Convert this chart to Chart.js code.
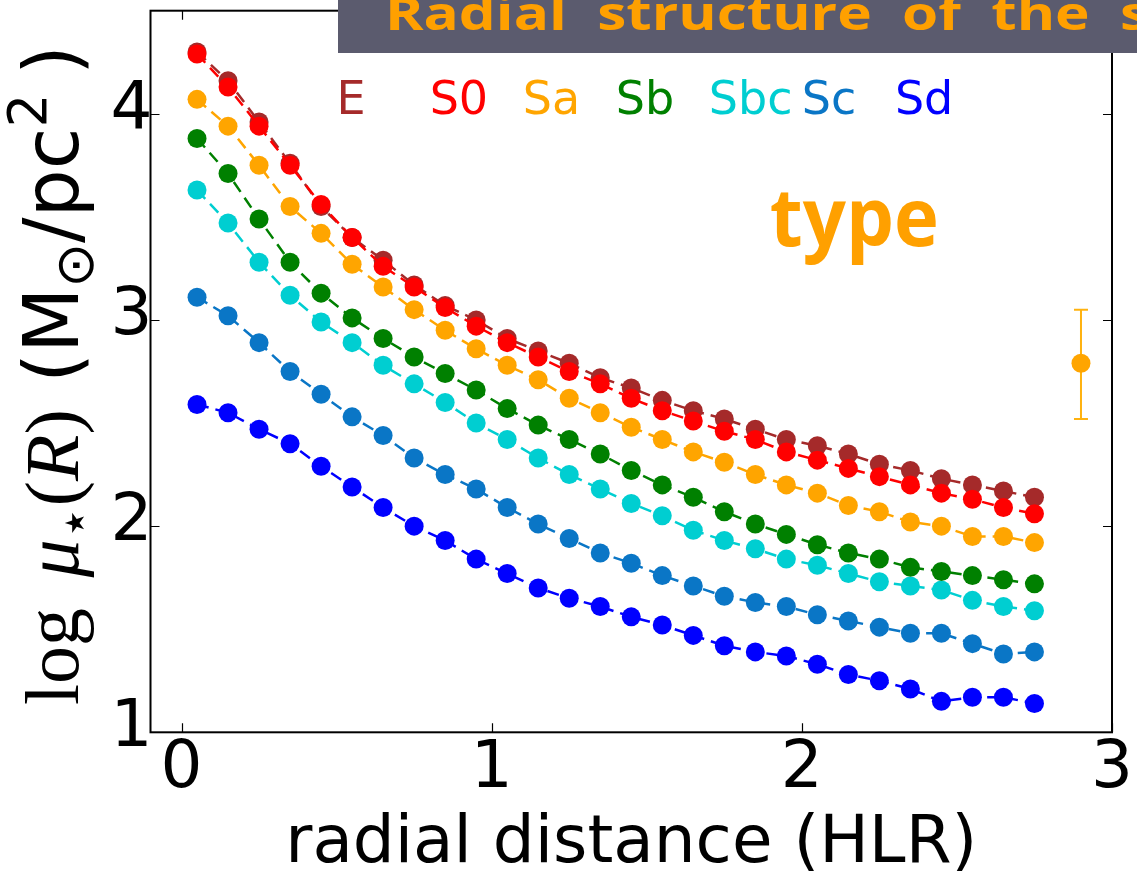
<!DOCTYPE html>
<html>
<head>
<meta charset="utf-8">
<script src="https://cdn.jsdelivr.net/npm/chart.js@4.4.1/dist/chart.umd.min.js"></script>
<style>
  html, body { margin: 0; padding: 0; background: #fff; }
  #wrap { width: 1137px; height: 877px; }
</style>
</head>
<body>
<div id="wrap"><canvas id="profiles" width="1137" height="877"></canvas></div>
<script>
// radial bins (HLR) and mean log surface density per morphological type
const radius = [0.05, 0.15, 0.25, 0.35, 0.45, 0.55, 0.65, 0.75, 0.85, 0.95,
                1.05, 1.15, 1.25, 1.35, 1.45, 1.55, 1.65, 1.75, 1.85, 1.95,
                2.05, 2.15, 2.25, 2.35, 2.45, 2.55, 2.65, 2.75];

const muE   = [4.30, 4.16, 3.96, 3.76, 3.55, 3.40, 3.29, 3.17, 3.07, 3.00,
               2.91, 2.85, 2.79, 2.72, 2.67, 2.61, 2.56, 2.52, 2.47, 2.42,
               2.39, 2.35, 2.30, 2.27, 2.23, 2.20, 2.17, 2.14];
const muS0  = [4.29, 4.13, 3.94, 3.75, 3.56, 3.40, 3.26, 3.16, 3.06, 2.97,
               2.89, 2.82, 2.75, 2.69, 2.62, 2.56, 2.51, 2.46, 2.42, 2.36,
               2.32, 2.28, 2.24, 2.20, 2.16, 2.13, 2.09, 2.06];
const muSa  = [4.07, 3.94, 3.75, 3.55, 3.42, 3.27, 3.16, 3.05, 2.95, 2.86,
               2.78, 2.71, 2.62, 2.55, 2.48, 2.42, 2.36, 2.31, 2.25, 2.20,
               2.16, 2.10, 2.07, 2.02, 2.00, 1.95, 1.95, 1.92];
const muSb  = [3.88, 3.71, 3.49, 3.28, 3.13, 3.01, 2.91, 2.82, 2.74, 2.66,
               2.57, 2.49, 2.42, 2.35, 2.27, 2.20, 2.14, 2.07, 2.01, 1.96,
               1.91, 1.87, 1.84, 1.80, 1.78, 1.76, 1.74, 1.72];
const muSbc = [3.63, 3.47, 3.28, 3.12, 2.99, 2.89, 2.78, 2.69, 2.60, 2.50,
               2.42, 2.33, 2.25, 2.18, 2.11, 2.05, 1.98, 1.93, 1.89, 1.84,
               1.81, 1.77, 1.73, 1.71, 1.69, 1.64, 1.61, 1.59];
const muSc  = [3.11, 3.02, 2.89, 2.75, 2.64, 2.53, 2.44, 2.33, 2.25, 2.18,
               2.09, 2.01, 1.94, 1.87, 1.82, 1.76, 1.71, 1.66, 1.63, 1.61,
               1.57, 1.54, 1.51, 1.48, 1.48, 1.43, 1.38, 1.39];
const muSd  = [2.59, 2.55, 2.47, 2.40, 2.29, 2.19, 2.09, 2.00, 1.93, 1.84,
               1.77, 1.70, 1.65, 1.61, 1.56, 1.52, 1.47, 1.42, 1.39, 1.37,
               1.33, 1.28, 1.25, 1.21, 1.15, 1.17, 1.17, 1.14];

const typeNames  = ["E", "S0", "Sa", "Sb", "Sbc", "Sc", "Sd"];
const typeValues = [muE, muS0, muSa, muSb, muSbc, muSc, muSd];
const typeColors = ["#a52a2a", "#ff0000", "#ffa500", "#008000", "#00ced1", "#0a76c6", "#0000ff"];

// typical uncertainty marker
const errRadius = [2.9];
const errValue  = [2.79];
const errLow    = [2.52];
const errHigh   = [3.05];

const xTicks = [0, 1, 2, 3];
const yTicks = [1, 2, 3, 4];

// where the type names sit (data coordinates, text baseline)
const nameX = [0.5, 0.8, 1.1, 1.4, 1.7, 2.0, 2.3];
const nameY = 4.0;

const datasets = typeNames.map((name, i) => ({
  label: name,
  data: radius.map((r, j) => ({ x: r, y: typeValues[i][j] })),
  showLine: true,
  borderColor: typeColors[i],
  backgroundColor: typeColors[i],
  borderWidth: 2.5,
  borderDash: [12, 7],
  pointRadius: 9.5,
  pointBorderWidth: 0,
  pointHoverRadius: 9.5,
  // S0 sits on top of E, the rest follow the list
  order: i === 1 ? 0 : (i === 0 ? 1 : i)
}));

datasets.push({
  label: "error",
  data: errRadius.map((r, j) => ({ x: r, y: errValue[j] })),
  showLine: false,
  backgroundColor: "#ffa500",
  pointRadius: 9.5,
  pointBorderWidth: 0,
  order: 10
});

// error bar under the marker
const errorBars = {
  id: "errorBars",
  beforeDatasetsDraw(chart) {
    const { ctx, scales: { x, y } } = chart;
    ctx.save();
    ctx.strokeStyle = "#ffb20f";
    ctx.lineWidth = 2;
    errRadius.forEach((r, j) => {
      const px = x.getPixelForValue(r);
      const top = y.getPixelForValue(errHigh[j]);
      const bot = y.getPixelForValue(errLow[j]);
      ctx.beginPath();
      ctx.moveTo(px, top); ctx.lineTo(px, bot);
      ctx.moveTo(px - 7, top); ctx.lineTo(px + 7, top);
      ctx.moveTo(px - 7, bot); ctx.lineTo(px + 7, bot);
      ctx.stroke();
    });
    ctx.restore();
  }
};

// box with inward ticks on all four sides
const frame = {
  id: "frame",
  afterDatasetsDraw(chart) {
    const { ctx, chartArea: a, scales: { x, y } } = chart;
    ctx.save();
    ctx.strokeStyle = "#000";
    ctx.lineWidth = 1.2;
    ctx.beginPath();
    xTicks.forEach(v => {
      const px = Math.round(x.getPixelForValue(v)) + 0.5;
      ctx.moveTo(px, a.bottom); ctx.lineTo(px, a.bottom - 9);
      ctx.moveTo(px, a.top); ctx.lineTo(px, a.top + 9);
    });
    yTicks.forEach(v => {
      const py = Math.round(y.getPixelForValue(v)) + 0.5;
      ctx.moveTo(a.left, py); ctx.lineTo(a.left + 9, py);
      ctx.moveTo(a.right, py); ctx.lineTo(a.right - 9, py);
    });
    ctx.stroke();
    ctx.lineWidth = 2;
    ctx.strokeRect(a.left, a.top, a.right - a.left, a.bottom - a.top);
    ctx.restore();
  }
};

// text pieces of the y label: font, style, relative size and baseline shift (in em)
const yLabelParts = [
  { t: "log", f: "Liberation Serif", s: "" },
  { gap: 0.4 },
  { t: "\u03bc", f: "Liberation Serif", s: "italic" },
  { t: "\u22c6", f: "DejaVu Sans", s: "", k: 0.7, d: 0.18 },
  { t: "(", f: "Liberation Serif", s: "" },
  { t: "R", f: "Liberation Serif", s: "italic" },
  { t: ")", f: "Liberation Serif", s: "" },
  { gap: 0.35 },
  { t: "(M", f: "DejaVu Sans", s: "" },
  { t: "\u2299", f: "DejaVu Sans", s: "", k: 0.7, d: 0.2 },
  { t: "/pc", f: "DejaVu Sans", s: "" },
  { t: "2", f: "DejaVu Sans", s: "", k: 0.7, d: -0.42 },
  { gap: 0.25 },
  { t: ")", f: "DejaVu Sans", s: "" }
];

function drawYLabel(ctx, baseX, startY, length) {
  const base = 60;
  const fontOf = (p, size) => `${p.s} ${size * (p.k || 1)}px "${p.f}"`;
  let total = 0;
  yLabelParts.forEach(p => {
    if (p.gap) { total += p.gap * base; return; }
    ctx.font = fontOf(p, base);
    total += ctx.measureText(p.t).width;
  });
  const size = base * length / total;
  ctx.save();
  ctx.translate(baseX, startY);
  ctx.rotate(-Math.PI / 2);
  ctx.fillStyle = "#000";
  ctx.textBaseline = "alphabetic";
  ctx.textAlign = "left";
  let pos = 0;
  yLabelParts.forEach(p => {
    if (p.gap) { pos += p.gap * size; return; }
    ctx.font = fontOf(p, size);
    ctx.fillText(p.t, pos, (p.d || 0) * size);
    pos += ctx.measureText(p.t).width;
  });
  ctx.restore();
}

// draws text so that its inked width equals the given width
function fitText(ctx, text, left, baseline, width, font) {
  ctx.font = font;
  const m = ctx.measureText(text);
  const ink = m.actualBoundingBoxLeft + m.actualBoundingBoxRight;
  const sx = width / ink;
  ctx.save();
  ctx.translate(left, baseline);
  ctx.scale(sx, 1);
  ctx.textAlign = "left";
  ctx.textBaseline = "alphabetic";
  ctx.fillText(text, m.actualBoundingBoxLeft, 0);
  ctx.restore();
}

const annotations = {
  id: "annotations",
  afterDraw(chart) {
    const { ctx, scales: { x, y } } = chart;
    ctx.save();

    // type names across the top of the panel
    ctx.font = '46px "DejaVu Sans"';
    ctx.textAlign = "left";
    ctx.textBaseline = "alphabetic";
    typeNames.forEach((name, i) => {
      ctx.fillStyle = typeColors[i];
      ctx.fillText(name, x.getPixelForValue(nameX[i]), y.getPixelForValue(nameY));
    });

    // "type" tag
    ctx.fillStyle = "#ffa000";
    fitText(ctx, "type", x.getPixelForValue(1.9), y.getPixelForValue(3.36), 165,
            'bold 80px "Open Sans"');

    // slide banner over the top right
    ctx.fillStyle = "#5b5b6e";
    ctx.fillRect(338, 0, 1137 - 338, 53);
    ctx.save();
    ctx.beginPath();
    ctx.rect(338, 0, 1137 - 338, 53);
    ctx.clip();
    ctx.fillStyle = "#ffa000";
    ctx.font = 'bold 46px "Open Sans"';
    const m = ctx.measureText("Radial");
    const sx = 173 / (m.actualBoundingBoxLeft + m.actualBoundingBoxRight);
    ctx.translate(390, 30);
    ctx.scale(sx, 1);
    ctx.fillText("Radial  structure  of  the  stellar  populations", m.actualBoundingBoxLeft, 0);
    ctx.restore();

    // y axis title
    drawYLabel(ctx, 78, 705, 660);

    ctx.restore();
  }
};

const tickFont = { family: "DejaVu Sans", size: 66 };

new Chart(document.getElementById("profiles"), {
  type: "scatter",
  data: { datasets },
  options: {
    responsive: false,
    animation: false,
    devicePixelRatio: 1,
    events: [],
    layout: { padding: { top: 10.7, right: 25, left: 0, bottom: 0 } },
    plugins: {
      legend: { display: false },
      tooltip: { enabled: false }
    },
    scales: {
      x: {
        type: "linear",
        min: -0.1,
        max: 3,
        afterBuildTicks: s => { s.ticks = xTicks.map(v => ({ value: v })); },
        grid: { display: false, drawTicks: false },
        border: { display: false },
        ticks: {
          font: tickFont,
          color: "#000",
          padding: -2,
          maxRotation: 0,
          autoSkip: false
        },
        title: {
          display: true,
          text: "radial distance (HLR)",
          font: { family: "DejaVu Sans", size: 66, lineHeight: 1 },
          color: "#000",
          padding: { top: 0, bottom: -1 }
        },
        afterFit: s => {
          s.height = 144.7;
          s.paddingLeft = 0;
          s.paddingRight = 0;
        }
      },
      y: {
        type: "linear",
        min: 1,
        max: 4.5,
        afterBuildTicks: s => { s.ticks = yTicks.map(v => ({ value: v })); },
        grid: { display: false, drawTicks: false },
        border: { display: false },
        ticks: {
          font: tickFont,
          color: "#000",
          padding: -2,
          labelOffset: -3
        },
        afterFit: s => {
          s.width = 150.5;
          s.paddingTop = 0;
          s.paddingBottom = 0;
        }
      }
    }
  },
  plugins: [errorBars, frame, annotations]
});
</script>
</body>
</html>
